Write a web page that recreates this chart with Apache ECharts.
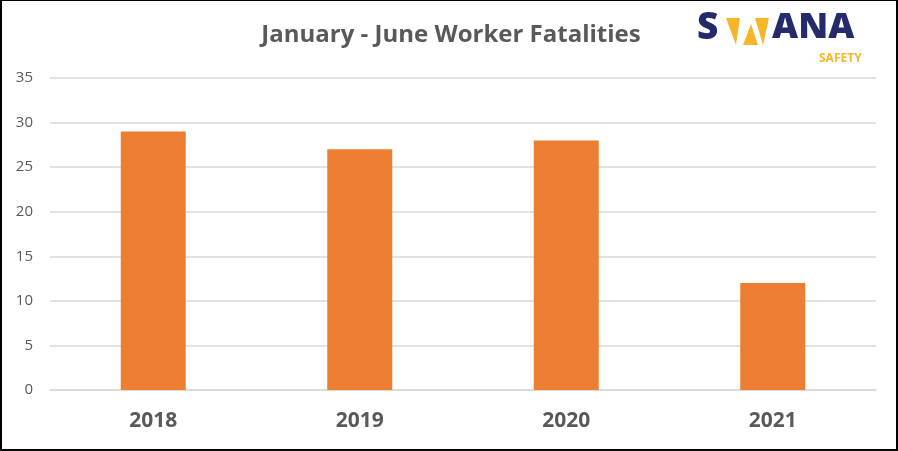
<!DOCTYPE html>
<html><head><meta charset="utf-8">
<script src="https://cdn.jsdelivr.net/npm/echarts@6/dist/echarts.min.js"></script>
<style>
html,body{margin:0;padding:0;background:#fff;}
#c{width:898px;height:451px;position:absolute;left:0;top:0;}
#b{position:absolute;left:0;top:0;width:898px;height:451px;box-sizing:border-box;border-left:2px solid #000;border-top:1px solid #000;border-right:2px solid #000;border-bottom:2px solid #000;pointer-events:none;}
</style></head>
<body><div id="c"></div><div id="b"></div>
<script>
const title = 'January - June Worker Fatalities';
const categories = ['2018', '2019', '2020', '2021'];
const fatalities = [29, 27, 28, 12];
const yTicks = { min: 0, max: 35, interval: 5 };

const chart = echarts.init(document.getElementById('c'), null, { renderer: 'canvas' });
const navy = '#252a6a', gold = '#f7b52a', txt = '#595959';
chart.setOption({
  animation: false,
  backgroundColor: '#fff',
  title: {
    text: title, left: 446, top: 18, textAlign: 'center',
    textStyle: { fontFamily: 'Open Sans', fontWeight: 'bold', fontSize: 24, color: txt }
  },
  grid: { left: 50, right: 22, top: 78, bottom: 61 },
  xAxis: {
    type: 'category', data: categories,
    axisLine: { show: true, lineStyle: { color: '#d9d9d9', width: 1.5 } },
    axisTick: { show: false },
    axisLabel: { fontFamily: 'Open Sans', fontWeight: 'bold', fontSize: 21, color: txt, margin: 21 }
  },
  yAxis: {
    type: 'value', min: yTicks.min, max: yTicks.max, interval: yTicks.interval,
    axisLine: { show: false }, axisTick: { show: false },
    axisLabel: { fontFamily: 'Open Sans', fontSize: 15, color: txt, margin: 17 },
    splitLine: { lineStyle: { color: '#d9d9d9', width: 1.5 } }
  },
  series: [{
    type: 'bar', data: fatalities, barWidth: 65,
    itemStyle: { color: '#ed7d31' }
  }],
  graphic: [
    { type: 'text', left: 697, top: 10, style: { text: 'S', fontFamily: 'Open Sans', fontWeight: 800, fontSize: 37, fill: navy } },
    { type: 'polygon', shape: { points: [[726,18],[740,18],[736,45]] }, style: { fill: gold } },
    { type: 'polygon', shape: { points: [[743,45],[758,45],[751,24]] }, style: { fill: gold } },
    { type: 'polygon', shape: { points: [[755,18],[769,18],[763,45]] }, style: { fill: gold } },
    { type: 'text', left: 772, top: 10, style: { text: 'ANA', fontFamily: 'Open Sans', fontWeight: 800, fontSize: 36, fill: navy } },
    { type: 'text', left: 819, top: 53, style: { text: 'SAFETY', fontFamily: 'Open Sans', fontWeight: 'bold', fontSize: 12, fill: gold } }
  ]
});
</script></body></html>
